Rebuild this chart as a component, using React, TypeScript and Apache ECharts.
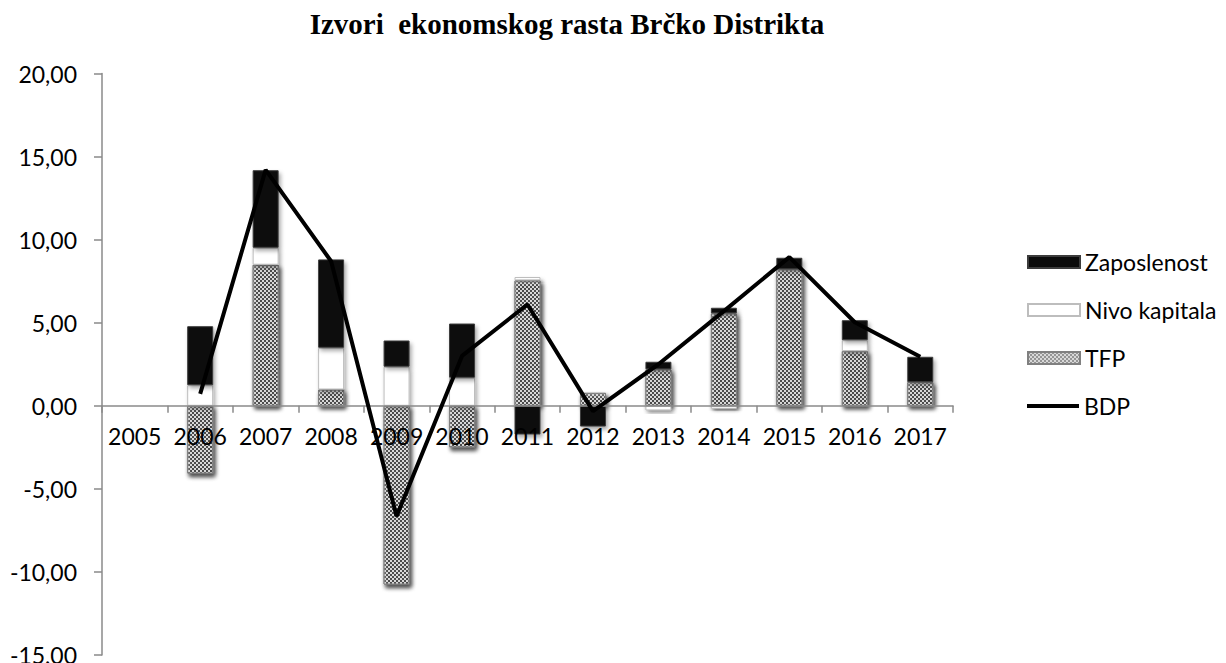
import React, { useEffect, useRef } from "react";
import * as echarts from "echarts";

const titleText = "Izvori  ekonomskog rasta Brčko Distrikta";
const years = ["2005", "2006", "2007", "2008", "2009", "2010", "2011", "2012", "2013", "2014", "2015", "2016", "2017"];
const tfp = [null, -4.08, 8.49, 0.98, -10.76, -2.5, 7.55, 0.78, 2.19, 5.56, 8.21, 3.29, 1.42];
const nivoKapitala = [null, 1.24, 1.02, 2.51, 2.35, 1.69, 0.2, 0, -0.28, -0.18, 0, 0.66, 0];
const zaposlenost = [null, 3.55, 4.67, 5.32, 1.58, 3.26, -1.73, -1.25, 0.46, 0.34, 0.7, 1.2, 1.53];
const bdp = [null, 0.72, 14.2, 8.7, -6.65, 3.0, 6.1, -0.32, 2.5, 5.7, 8.95, 5.03, 2.95];
const yMin = -15;
const yMax = 20;
const yStep = 5;

const FONT = "Lato";
const GRID_TOP = 73.5;
const GRID_BOTTOM = 8;
const CHART_H = 663;

export default function App() {
  const ref = useRef<HTMLDivElement>(null);
  useEffect(() => {
    if (!ref.current) return;
    const chart = echarts.init(ref.current, null, { renderer: "svg" });
    const gridH = CHART_H - GRID_TOP - GRID_BOTTOM;
    // distance from grid bottom up to the zero line
    const zeroOffset = (gridH * (0 - yMin)) / (yMax - yMin);
    const shadow = {
      shadowBlur: 4,
      shadowColor: "rgba(0,0,0,0.35)",
      shadowOffsetX: 2,
      shadowOffsetY: 3,
    };
    const legendBase = {
      orient: "vertical",
      left: 1027,
      padding: 0,
      itemWidth: 52,
      itemHeight: 12,
      itemGap: 0,
      textStyle: { fontFamily: FONT, fontSize: 23, color: "#000", lineHeight: 24 },
      selectedMode: false,
    };
    const legendCenters = [262, 310, 358, 406];
    const legendNames = ["Zaposlenost", "Nivo kapitala", "TFP", "BDP"];
    chart.setOption({
      animation: false,
      textStyle: { fontFamily: FONT },
      graphic: [
        {
          type: "text",
          x: 567,
          y: 24,
          style: {
            text: titleText,
            font: 'bold 29px "Liberation Serif"',
            fill: "#000",
            align: "center",
            verticalAlign: "middle",
          },
        },
      ],
      legend: legendNames.map((n, i) => ({
        ...legendBase,
        top: legendCenters[i] - 12,
        itemHeight: n === "BDP" ? 4 : 12,
        data: [
          n === "BDP"
            ? { name: n, icon: "rect", itemStyle: { color: "#000" } }
            : { name: n, icon: "rect" },
        ],
      })),
      grid: {
        left: 102,
        right: 273,
        top: GRID_TOP,
        bottom: GRID_BOTTOM,
        containLabel: false,
        outerBoundsMode: "none",
      },
      xAxis: [
        {
          type: "category",
          data: years,
          show: false,
        },
        {
          type: "category",
          data: years,
          position: "bottom",
          offset: -zeroOffset,
          z: 5,
          axisLine: { show: true, onZero: false, lineStyle: { color: "#8a8a8a", width: 1.5 } },
          axisTick: { show: true, length: 7, lineStyle: { color: "#8a8a8a", width: 1.5 } },
          axisLabel: { interval: 0, fontSize: 23, color: "#000", margin: 19, fontFamily: FONT },
        },
      ],
      yAxis: {
        type: "value",
        min: yMin,
        max: yMax,
        interval: yStep,
        splitLine: { show: false },
        axisLine: { show: true, lineStyle: { color: "#8a8a8a", width: 1.5 } },
        axisTick: { show: true, length: 8, lineStyle: { color: "#8a8a8a", width: 1.5 } },
        axisLabel: {
          fontSize: 23,
          color: "#000",
          margin: 25,
          fontFamily: FONT,
          formatter: (v: number) => v.toFixed(2).replace(".", ","),
        },
      },
      series: [
        {
          name: "TFP",
          type: "bar",
          stack: "a",
          barWidth: 26,
          xAxisIndex: 0,
          data: tfp.map((v) => (v === null ? "-" : v)),
          itemStyle: {
            color: "#959595",
            borderColor: "#808080",
            borderWidth: 1,
            decal: {
              symbol: "rect",
              symbolSize: 1,
              color: "#d8d8d8",
              dashArrayX: [[2, 2], [0, 2, 2, 0]],
              dashArrayY: [2, 0],
              rotation: 0,
            },
            ...shadow,
          },
        },
        {
          name: "Nivo kapitala",
          type: "bar",
          stack: "a",
          barWidth: 26,
          xAxisIndex: 0,
          data: nivoKapitala.map((v) => (v === null ? "-" : v)),
          itemStyle: { color: "#ffffff", borderColor: "#bdbdbd", borderWidth: 1, ...shadow },
        },
        {
          name: "Zaposlenost",
          type: "bar",
          stack: "a",
          barWidth: 26,
          xAxisIndex: 0,
          data: zaposlenost.map((v) => (v === null ? "-" : v)),
          itemStyle: { color: "#0b0b0b", borderColor: "#3c3c3c", borderWidth: 1, ...shadow },
        },
        {
          name: "BDP",
          type: "line",
          z: 10,
          xAxisIndex: 0,
          data: bdp.map((v) => (v === null ? "-" : v)),
          symbol: "none",
          showSymbol: false,
          lineStyle: { color: "#000", width: 4 },
          itemStyle: { color: "#000" },
        },
      ],
    });
    return () => chart.dispose();
  }, []);
  return (
    <div
      ref={ref}
      style={{ position: "fixed", left: 0, top: 0, width: 1226, height: 663, background: "#fff" }}
    />
  );
}
